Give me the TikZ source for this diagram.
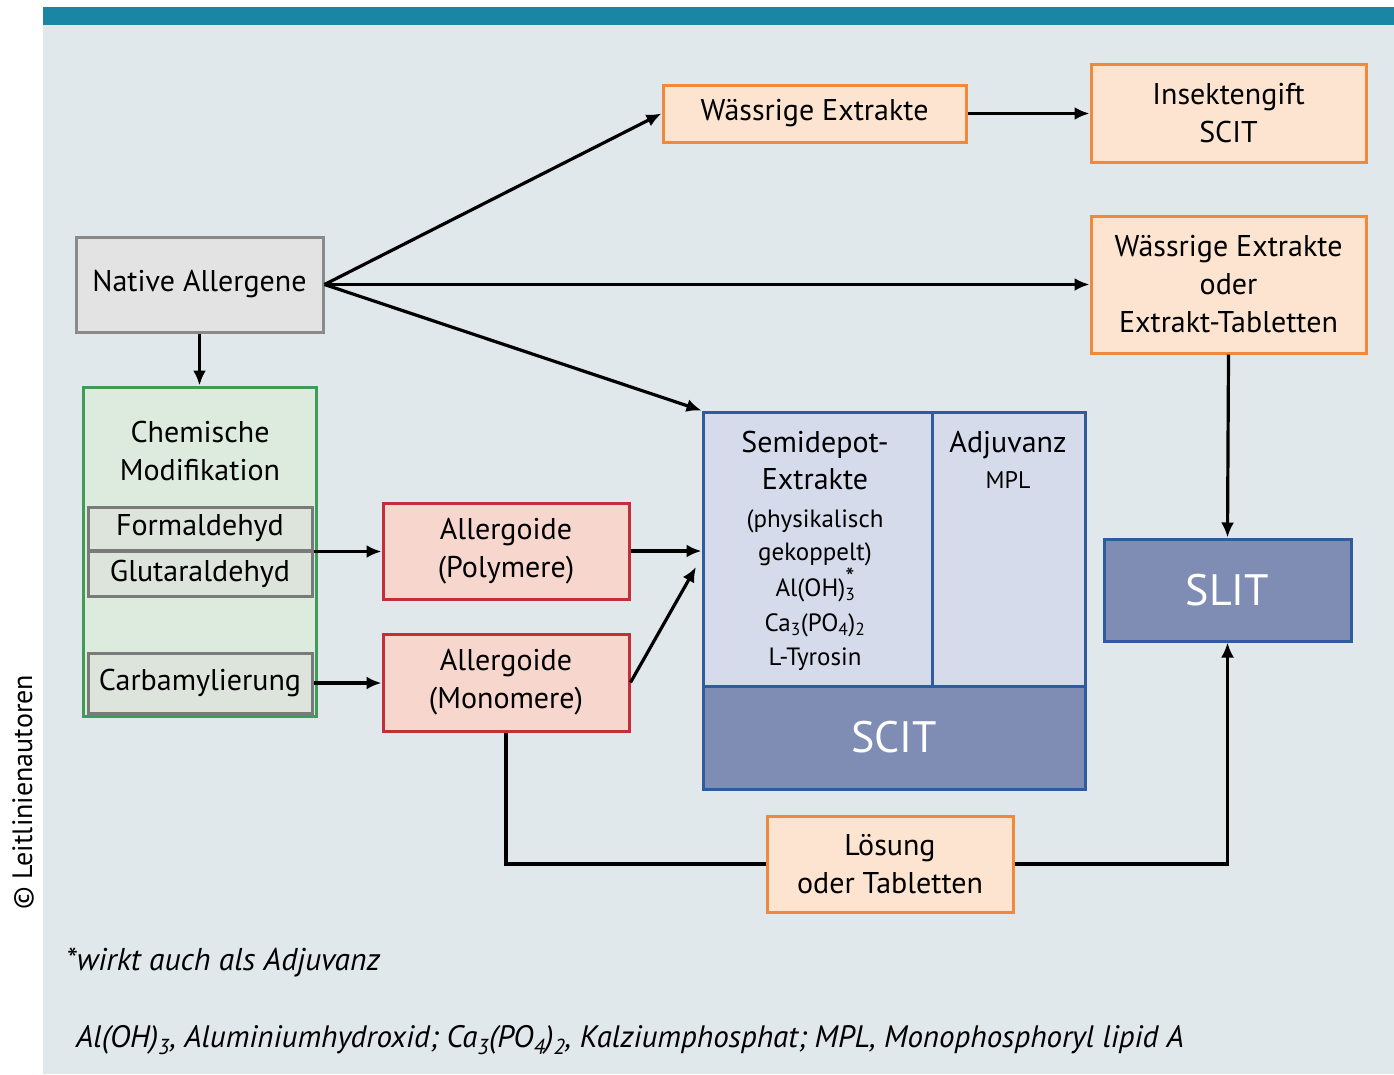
\documentclass[tikz,border=0pt]{standalone}
\usepackage{fontspec}
\setmainfont{PT Sans}
\usetikzlibrary{arrows.meta}
\definecolor{bgc}{HTML}{E1E8EC}
\definecolor{barc}{HTML}{1B86A4}
\definecolor{grayfill}{HTML}{E3E3E3}
\definecolor{graydraw}{HTML}{8A8A8A}
\definecolor{peachfill}{HTML}{FCE4D0}
\definecolor{peachdraw}{HTML}{F0883E}
\definecolor{greenfill}{HTML}{DCEBDD}
\definecolor{greendraw}{HTML}{3F9B55}
\definecolor{subfill}{HTML}{DCE4DB}
\definecolor{subdraw}{HTML}{7A7A7A}
\definecolor{pinkfill}{HTML}{F7D6CD}
\definecolor{pinkdraw}{HTML}{C22F3B}
\definecolor{lavfill}{HTML}{D6DBEB}
\definecolor{darkfill}{HTML}{7F8DB5}
\definecolor{bluedraw}{HTML}{2F5C9C}
\newcommand{\fs}[1]{\fontsize{#1}{38}\selectfont}
\begin{document}
\begin{tikzpicture}[x=1pt,y=-1pt,
  box/.style={draw, line width=3pt, inner sep=0pt, align=center, font=\fs{30}},
  graybox/.style={box, fill=grayfill, draw=graydraw},
  peachbox/.style={box, fill=peachfill, draw=peachdraw},
  greenbox/.style={box, fill=greenfill, draw=greendraw},
  subbox/.style={box, fill=subfill, draw=subdraw},
  pinkbox/.style={box, fill=pinkfill, draw=pinkdraw},
  lavbox/.style={box, fill=lavfill, draw=bluedraw},
  darkbox/.style={box, fill=darkfill, draw=bluedraw, text=white, font=\fs{44}},
  arr/.style={line width=3.2pt, -{Latex[length=15pt,width=13pt]}},
  txt/.style={inner sep=0pt, align=center}
]
\useasboundingbox (0,0) rectangle (1394,1074);
\fill[white] (0,0) rectangle (1394,1074);
\fill[bgc] (43,25) rectangle (1394,1074);
\fill[barc] (43,7) rectangle (1394,25);

% nodes
\node[graybox, minimum width=247, minimum height=95] (native) at (199.5,284.5) {Native Allergene};
\node[peachbox, minimum width=303, minimum height=57] (wtop) at (814.5,113.5) {Wässrige Extrakte};
\node[peachbox, minimum width=275, minimum height=98] (insekt) at (1228.5,113.5) {Insektengift\\SCIT};
\node[peachbox, minimum width=275, minimum height=137] (wo) at (1228.5,284.5) {Wässrige Extrakte\\oder\\Extrakt-Tabletten};

\node[greenbox, minimum width=233, minimum height=329] (chem) at (199.5,551.5) {};
\node[txt, font=\fs{30}] (chemlabel) at (200,451) {Chemische\\Modifikation};
\node[subbox, minimum width=224, minimum height=43] (form) at (200,528.5) {Formaldehyd};
\node[subbox, minimum width=224, minimum height=45] (glut) at (200,573.5) {Glutaraldehyd};
\node[subbox, minimum width=224, minimum height=60] (carb) at (200,683) {Carbamylierung};

\node[pinkbox, minimum width=246, minimum height=96] (poly) at (506,551) {Allergoide\\(Polymere)};
\node[pinkbox, minimum width=246, minimum height=97] (mono) at (506,682.5) {Allergoide\\(Monomere)};

\node[lavbox, minimum width=229, minimum height=274] (semi) at (817.5,549) {};
\node[lavbox, minimum width=153, minimum height=274] (adj) at (1008.5,549) {};
\node[darkbox, minimum width=382, minimum height=103] (scit) at (894,737.5) {SCIT};
\node[txt, font=\fs{25}, anchor=north] (semitext) at (815,431)
  {{\fs{30}Semidepot-}\\[-1pt]{\fs{30}Extrakte}\\[0pt](physikalisch\\[-5pt]gekoppelt)\\[-2pt]
   Al(OH)\rlap{\textsubscript{3}}\raisebox{0.42em}{\fs{26}*}\\[-3pt]Ca\textsubscript{3}(PO\textsubscript{4})\textsubscript{2}\\[-4pt]L-Tyrosin};
\node[txt, anchor=north, font=\fontsize{24}{38}\selectfont] (adjtext) at (1008,431) {{\fs{30}Adjuvanz}\\[-2pt]MPL};

\node[darkbox, minimum width=247, minimum height=102] (slit) at (1227.5,590) {SLIT};
\node[peachbox, minimum width=246, minimum height=96] (loes) at (890,864) {Lösung\\oder Tabletten};

\coordinate (monoend) at (696,567);

% connectors
\draw[arr] (native.east) -- (wtop.west);
\draw[arr] (native.east) -- (wo.west);
\draw[arr] (native.east) -- (semi.north west);
\draw[arr] (native.south) -- (chem.north);
\draw[arr] (wtop.east) -- (insekt.west);
\draw[arr] (wo.south) -- (slit.north);
\draw[arr] (form.south east) -- (form.south east -| poly.west);
\draw[arr] (carb.east) -- (carb.east -| mono.west);
\draw[arr] (poly.east) -- (poly.east -| semi.west);
\draw[arr] (mono.east) -- (monoend);
\draw[line width=3.2pt] (mono.south) |- (loes.west);
\draw[arr] (loes.east) -| (slit.south);

% texts
\node[txt, rotate=90, font=\fs{28}] (copy) at (23,792) {© Leitlinienautoren};
\node[txt, anchor=west, font=\fs{31.5}\itshape] (foot1) at (66,962) {*wirkt auch als Adjuvanz};
\node[txt, anchor=west, font=\fs{31}\itshape] (foot2) at (76,1040)
  {Al(OH)\textsubscript{3}, Aluminiumhydroxid; Ca\textsubscript{3}(PO\textsubscript{4})\textsubscript{2}, Kalziumphosphat; MPL, Monophosphoryl lipid A};
\end{tikzpicture}
\end{document}
